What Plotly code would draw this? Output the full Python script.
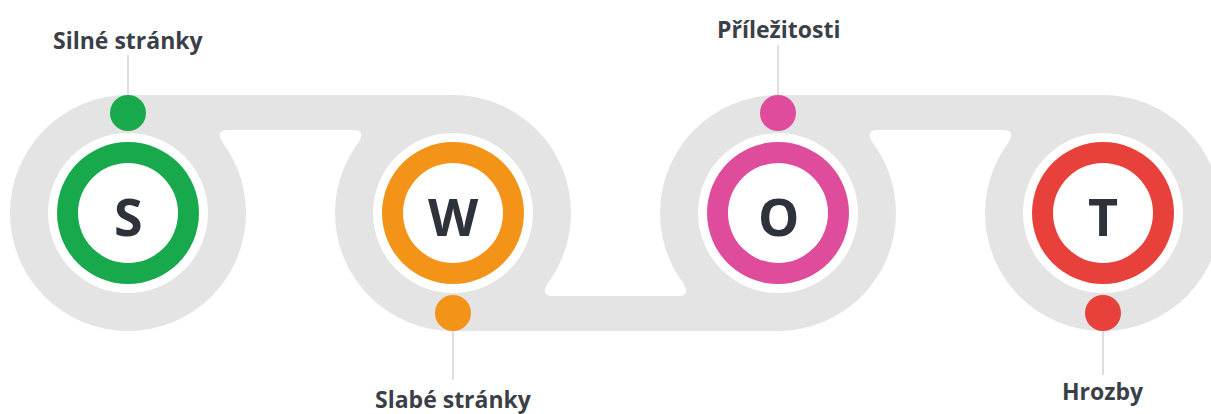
import math
import plotly.graph_objects as go

letters = ["S", "W", "O", "T"]
labels = ["Silné stránky", "Slabé stránky", "Příležitosti", "Hrozby"]
colors = ["#17a94b", "#f39419", "#df4c9c", "#e8403a"]
sides = ["top", "bottom", "top", "bottom"]

W, H = 1211, 414
X0, STEP, CY = 128, 325, 213
R_GRAY, R_WHITE, R_RING, R_IN = 118, 80, 71, 50
BAND_IN, BAND_OUT = 83, 118
DOT_R, DOT_OFF = 18, 100
GRAY = "#e4e4e4"
TEXT = "#3b4048"

shapes = []
annotations = []
centers = [X0 + i * STEP for i in range(len(letters))]

def circ(cx, cy, r, color):
    return dict(type="circle", xref="x", yref="y", x0=cx - r, x1=cx + r,
                y0=cy - r, y1=cy + r, fillcolor=color, line=dict(width=0), layer="above")

def fillet(cx, s, d, ang=12, ext=16):
    px_ = math.sqrt(R_GRAY ** 2 - BAND_IN ** 2)
    P = (cx + d * px_, CY + s * BAND_IN)
    phi = math.atan2(BAND_IN, px_) - math.radians(ang)
    Q = (cx + d * R_GRAY * math.cos(phi), CY + s * R_GRAY * math.sin(phi))
    B = (P[0] + d * ext, P[1])
    path = (f"M {Q[0]:.2f},{Q[1]:.2f} L {P[0]:.2f},{P[1]:.2f} L {B[0]:.2f},{B[1]:.2f} "
            f"Q {P[0]:.2f},{P[1]:.2f} {Q[0]:.2f},{Q[1]:.2f} Z")
    return dict(type="path", xref="x", yref="y", path=path, fillcolor=GRAY,
                line=dict(width=0), layer="above")

# gray bands connecting circles
for i in range(len(centers) - 1):
    s = -1 if sides[i] == "top" else 1
    y0, y1 = (CY - BAND_OUT, CY - BAND_IN) if s < 0 else (CY + BAND_IN, CY + BAND_OUT)
    shapes.append(dict(type="rect", xref="x", yref="y", x0=centers[i], x1=centers[i + 1],
                       y0=y0, y1=y1, fillcolor=GRAY, line=dict(width=0), layer="above"))
    shapes.append(fillet(centers[i], s, 1))
    shapes.append(fillet(centers[i + 1], s, -1))

for i, cx in enumerate(centers):
    shapes.append(circ(cx, CY, R_GRAY, GRAY))

for i, cx in enumerate(centers):
    shapes.append(circ(cx, CY, R_WHITE, "white"))
    shapes.append(circ(cx, CY, R_RING, colors[i]))
    shapes.append(circ(cx, CY, R_IN, "white"))
    sgn = -1 if sides[i] == "top" else 1
    dy = CY + sgn * DOT_OFF
    shapes.append(circ(cx, dy, DOT_R, colors[i]))
    # connector line
    if sides[i] == "top":
        ly0, ly1 = CY - BAND_OUT, (55 if i == 0 else 45)
        ty = 40 if i == 0 else 29
    else:
        ly0, ly1 = CY + BAND_OUT, (380 if i == 1 else 375)
        ty = 399 if i == 1 else 391
    shapes.append(dict(type="line", xref="x", yref="y", x0=cx, x1=cx, y0=ly0, y1=ly1,
                       line=dict(color="#c8c8c8", width=1.2), layer="above"))
    annotations.append(dict(x=cx, y=ty, xref="x", yref="y", text=labels[i], showarrow=False,
                            font=dict(family="Open Sans", size=23, color=TEXT, weight="bold"),
                            xanchor="center", yanchor="middle"))
    annotations.append(dict(x=cx, y=CY + 2, xref="x", yref="y", text=letters[i], showarrow=False,
                            font=dict(family="Open Sans", size=52, color="#2e333b", weight="bold"),
                            xanchor="center", yanchor="middle"))

fig = go.Figure()
fig.add_trace(go.Scatter(x=centers, y=[CY] * len(centers), mode="markers",
                         marker=dict(size=1, opacity=0), hoverinfo="skip", showlegend=False))
fig.update_layout(
    width=W, height=H, margin=dict(l=0, r=0, t=0, b=0),
    paper_bgcolor="white", plot_bgcolor="white",
    xaxis=dict(range=[0, W], visible=False, fixedrange=True),
    yaxis=dict(range=[H, 0], visible=False, fixedrange=True),
    shapes=shapes, annotations=annotations, showlegend=False,
)
fig.write_html("out.html", config=dict(displayModeBar=False),
               post_script="document.body.style.margin='0';document.body.style.overflow='hidden';")
